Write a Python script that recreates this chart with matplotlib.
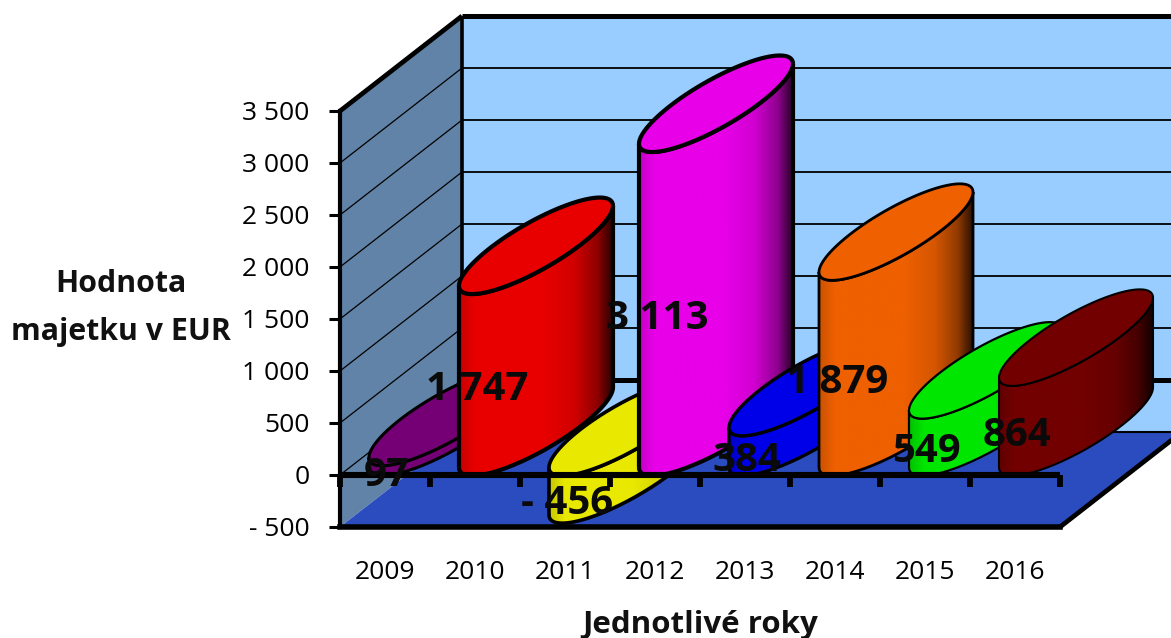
import numpy as np
import matplotlib
matplotlib.use("Agg")
import matplotlib.pyplot as plt
from matplotlib.path import Path
from matplotlib.patches import PathPatch, Polygon
from matplotlib.colors import to_rgb

years = ["2009", "2010", "2011", "2012", "2013", "2014", "2015", "2016"]
values = [97, 1747, -456, 3113, 384, 1879, 549, 864]
value_labels = ["97", "1 747", "- 456", "3 113", "384", "1 879", "549", "864"]
colors = ["#750075", "#E80000", "#E8E800", "#E800E8", "#0000E8", "#EE6000", "#00E600", "#720000"]
edge_widths = [2.2, 3.0, 2.6, 3.0, 2.4, 2.0, 1.6, 1.5]
y_ticks = [-500, 0, 500, 1000, 1500, 2000, 2500, 3000, 3500]
y_tick_labels = ["- 500", "0", "500", "1 000", "1 500", "2 000", "2 500", "3 000", "3 500"]

W, H = 1171, 638
plt.rcParams["font.family"] = ["Open Sans", "DejaVu Sans"]
fig = plt.figure(figsize=(W / 100, H / 100), dpi=100, facecolor="white")
ax = fig.add_axes([340 / W, (H - 527) / H, 720 / W, 416 / H])
ax.set_facecolor("none")
XMIN, XMAX, YMIN, YMAX = -0.5, 7.5, -500, 3500
PX_X, PX_Y = 90.0, 0.104  # pixels per data unit
DX, DY = 122 / PX_X, 95 / PX_Y  # oblique depth offset
A, SA, B = 77 / PX_X, 40 / PX_Y, 27 / PX_Y  # cylinder ellipse
BLACK = "#000000"


def poly(pts, **kw):
    p = Polygon(pts, closed=True, clip_on=False, **kw)
    ax.add_patch(p)
    return p


def line(xs, ys, lw, z):
    ax.plot(xs, ys, color=BLACK, lw=lw, clip_on=False, zorder=z, solid_capstyle="butt")


# walls and floor
poly([(XMIN + DX, YMIN + DY), (XMAX + DX, YMIN + DY), (XMAX + DX, YMAX + DY), (XMIN + DX, YMAX + DY)],
     fc="#99CCFF", ec="none", zorder=1)
poly([(XMIN, YMIN), (XMIN, YMAX), (XMIN + DX, YMAX + DY), (XMIN + DX, YMIN + DY)],
     fc="#6183A7", ec="none", zorder=1)
poly([(XMIN, YMIN), (XMAX, YMIN), (XMAX + DX, YMIN + DY), (XMIN + DX, YMIN + DY)],
     fc="#2A4CBF", ec="none", zorder=1.1)

# grid on the walls
for t in y_ticks[1:-1]:
    lw = 3.6 if t == 0 else 1.3
    line([XMIN + DX, XMAX + DX], [t + DY, t + DY], lw, 1.2)
    line([XMIN, XMIN + DX], [t, t + DY], 0.9, 1.2)
line([XMIN + DX, XMAX + DX], [YMIN + DY, YMIN + DY], 1.5, 1.2)
line([XMIN + DX, XMAX + DX], [YMAX + DY, YMAX + DY], 3.6, 1.3)
line([XMIN, XMIN + DX], [YMAX, YMAX + DY], 3.4, 1.3)
line([XMIN + DX, XMIN + DX], [YMIN + DY, YMAX + DY], 2.6, 1.3)
line([XMAX, XMAX + DX], [YMIN, YMIN + DY], 3.4, 1.3)

# gradient across a cylinder body
stops_x = [0.0, 0.1, 0.55, 0.75, 0.9, 1.0]
stops_m = [0.85, 1.0, 1.0, 0.9, 0.62, 0.18]
t = np.linspace(0, 1, 200)
shade = np.interp(t, stops_x, stops_m)

theta_top = np.linspace(0, 2 * np.pi, 160)
theta_low = np.linspace(np.pi, 2 * np.pi, 90)  # left to right along lower rim


def rim(cx, cy, th):
    return np.column_stack([cx + A * np.cos(th), cy + SA * np.cos(th) + B * np.sin(th)])


for i, (v, c, elw) in enumerate(zip(values, colors, edge_widths)):
    z = 2 + i
    cx = i + DX / 2
    lo = min(v, 0) + DY / 2
    hi = max(v, 0) + DY / 2
    low = rim(cx, lo, theta_low)
    up = rim(cx, hi, theta_low)[::-1]
    pts = np.vstack([low, up, low[:1]])
    body = PathPatch(Path(pts), fc="none", ec=BLACK, lw=elw, zorder=z + 0.2, clip_on=False)
    clipper = PathPatch(Path(pts), transform=ax.transData, fc="none", ec="none", clip_on=False)
    ax.add_patch(clipper)
    rgb = np.array(to_rgb(c))
    img = np.clip(shade[None, :, None] * rgb[None, None, :], 0, 1)
    im = ax.imshow(img, extent=[cx - A, cx + A, lo - SA - B, hi + SA + B], aspect="auto",
                   origin="lower", zorder=z, interpolation="bilinear")
    im.set_clip_box(fig.bbox)
    im.set_clip_path(clipper)
    ax.add_patch(body)
    top = rim(cx, hi, theta_top)
    ax.add_patch(PathPatch(Path(top), fc=c, ec=BLACK, lw=elw, zorder=z + 0.4, clip_on=False))

# zero line with its tick marks, over the bars
line([XMIN, XMAX], [0, 0], 4.4, 15)
ax.vlines(np.arange(XMIN, XMAX + 0.5, 1), -115, 0, color=BLACK, lw=4.2, zorder=15, clip_on=False)

# value labels
for i, (v, s) in enumerate(zip(values, value_labels)):
    ax.text(i + 0.02, v / 2 - 50, s, ha="center", va="center", fontsize=29, fontweight="bold",
            color="#0A0A0A", zorder=20, clip_on=False)

ax.set_xlim(XMIN, XMAX)
ax.set_ylim(YMIN, YMAX)
ax.set_xticks(range(len(years)))
ax.set_xticklabels(years, fontsize=19)
ax.set_yticks(y_ticks)
ax.set_yticklabels(y_tick_labels, fontsize=19)
ax.tick_params(axis="x", length=0, pad=24)
ax.tick_params(axis="y", length=8, width=2.2, pad=14, color=BLACK)
for side in ("top", "right"):
    ax.spines[side].set_visible(False)
ax.spines["left"].set_linewidth(3)
ax.spines["bottom"].set_linewidth(4)
ax.spines["left"].set_zorder(16)
ax.spines["bottom"].set_zorder(16)

ax.set_xlabel("Jednotlivé roky", fontsize=22.5, fontweight="bold", color="#111111")
ax.xaxis.set_label_coords((700 - 340) / 720, (527 - 625) / 416, transform=ax.transAxes)
ax.xaxis.label.set_va("center")
ax.set_ylabel("Hodnota\nmajetku v EUR", fontsize=21.8, fontweight="bold", rotation=0,
              ha="center", va="center", color="#111111", linespacing=1.75)
ax.yaxis.set_label_coords((121 - 340) / 720, (527 - 308) / 416, transform=ax.transAxes)

fig.savefig("out.png", dpi=100, facecolor="white")
